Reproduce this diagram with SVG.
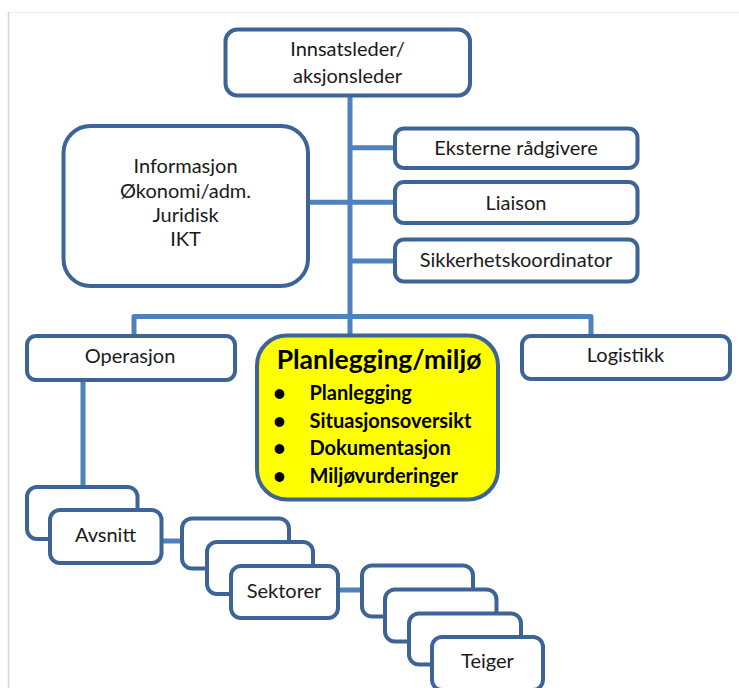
<svg xmlns="http://www.w3.org/2000/svg" width="739" height="688" viewBox="0 0 739 688">
  <style>
    .box { fill: #ffffff; stroke: #3c6496; stroke-width: 4; }
    .hi { fill: #ffff00; }
    .conn { fill: none; stroke: #4f81bd; stroke-width: 5; stroke-linejoin: round; }
    .t { font-family: Lato, "Liberation Sans", sans-serif; font-size: 20px; fill: #1a1a1a; text-anchor: middle; }
    .b { font-family: Lato, "Liberation Sans", sans-serif; font-size: 20px; font-weight: bold; fill: #000000; }
    .title { font-size: 26.5px; text-anchor: middle; }
    .dot { font-size: 22px; text-anchor: middle; }
  </style>

  <rect width="739" height="688" fill="#ffffff"/>
  <!-- page frame -->
  <line x1="8" y1="12.5" x2="739" y2="12.5" stroke="#eef2f9" stroke-width="1.5"/>
  <line x1="8.5" y1="12" x2="8.5" y2="688" stroke="#c6d6ec" stroke-width="1.5"/>

  <!-- connectors -->
  <g id="connectors">
    <line class="conn" x1="350" y1="95" x2="350" y2="336"/>
    <line class="conn" x1="306" y1="202.3" x2="350" y2="202.3"/>
    <line class="conn" x1="350" y1="147.7" x2="396" y2="147.7"/>
    <line class="conn" x1="350" y1="202.3" x2="396" y2="202.3"/>
    <line class="conn" x1="350" y1="261" x2="396" y2="261"/>
    <path class="conn" d="M134,337 V316.5 H591 V337"/>
    <line class="conn" x1="83" y1="380" x2="83" y2="488"/>
    <line class="conn" x1="160" y1="541" x2="183" y2="541"/>
    <line class="conn" x1="337" y1="590" x2="363" y2="590"/>
  </g>

  <g id="innsatsleder">
    <rect class="box" x="225.5" y="29.5" width="244.5" height="66" rx="12"/>
    <text class="t" x="347.5" y="56">Innsatsleder/</text>
    <text class="t" x="347.5" y="83">aksjonsleder</text>
  </g>

  <g id="stab">
    <rect class="box" x="63.5" y="126" width="244.5" height="160" rx="27"/>
    <text class="t" x="185.5" y="173">Informasjon</text>
    <text class="t" x="185.5" y="197.5">Økonomi/adm.</text>
    <text class="t" x="185.5" y="221.5">Juridisk</text>
    <text class="t" x="185.5" y="246">IKT</text>
  </g>

  <g id="eksterne">
    <rect class="box" x="395" y="128.5" width="242.5" height="39.5" rx="9"/>
    <text class="t" x="516" y="154.5">Eksterne rådgivere</text>
  </g>

  <g id="liaison">
    <rect class="box" x="395" y="182" width="242.5" height="41" rx="9"/>
    <text class="t" x="516" y="210">Liaison</text>
  </g>

  <g id="sikkerhet">
    <rect class="box" x="395" y="239.5" width="242.5" height="42" rx="9"/>
    <text class="t" x="516" y="266.5">Sikkerhetskoordinator</text>
  </g>

  <g id="operasjon">
    <rect class="box" x="27" y="336" width="208" height="44" rx="9"/>
    <text class="t" x="130" y="362.5">Operasjon</text>
  </g>

  <g id="planlegging">
    <rect class="box hi" x="257" y="335.5" width="241" height="164" rx="30"/>
    <text class="b title" x="379" y="368.5">Planlegging/miljø</text>
    <text class="b dot" x="279.5" y="401">•</text>
    <text class="b" x="309.5" y="400">Planlegging</text>
    <text class="b dot" x="279.5" y="429">•</text>
    <text class="b" x="309.5" y="428.3">Situasjonsoversikt</text>
    <text class="b dot" x="279.5" y="456">•</text>
    <text class="b" x="309.5" y="455">Dokumentasjon</text>
    <text class="b dot" x="279.5" y="483.5">•</text>
    <text class="b" x="309.5" y="482.7">Miljøvurderinger</text>
  </g>

  <g id="logistikk">
    <rect class="box" x="522" y="336" width="208" height="43" rx="9"/>
    <text class="t" x="625.5" y="361.5">Logistikk</text>
  </g>

  <g id="avsnitt">
    <rect class="box" x="27" y="487" width="110.5" height="52" rx="10"/>
    <rect class="box" x="50" y="510" width="111.5" height="53" rx="10"/>
    <text class="t" x="105.5" y="541.7">Avsnitt</text>
  </g>

  <g id="sektorer">
    <rect class="box" x="182" y="518.5" width="107" height="50" rx="10"/>
    <rect class="box" x="207" y="542" width="106" height="52" rx="10"/>
    <rect class="box" x="231" y="566" width="107" height="52" rx="10"/>
    <text class="t" x="284" y="598.3">Sektorer</text>
  </g>

  <g id="teiger">
    <rect class="box" x="362" y="565.5" width="111" height="51" rx="10"/>
    <rect class="box" x="385" y="589.5" width="111.5" height="52" rx="10"/>
    <rect class="box" x="409" y="613.5" width="112" height="51" rx="10"/>
    <rect class="box" x="432" y="637" width="111" height="53" rx="10"/>
    <text class="t" x="487.5" y="668.3">Teiger</text>
  </g>
</svg>
